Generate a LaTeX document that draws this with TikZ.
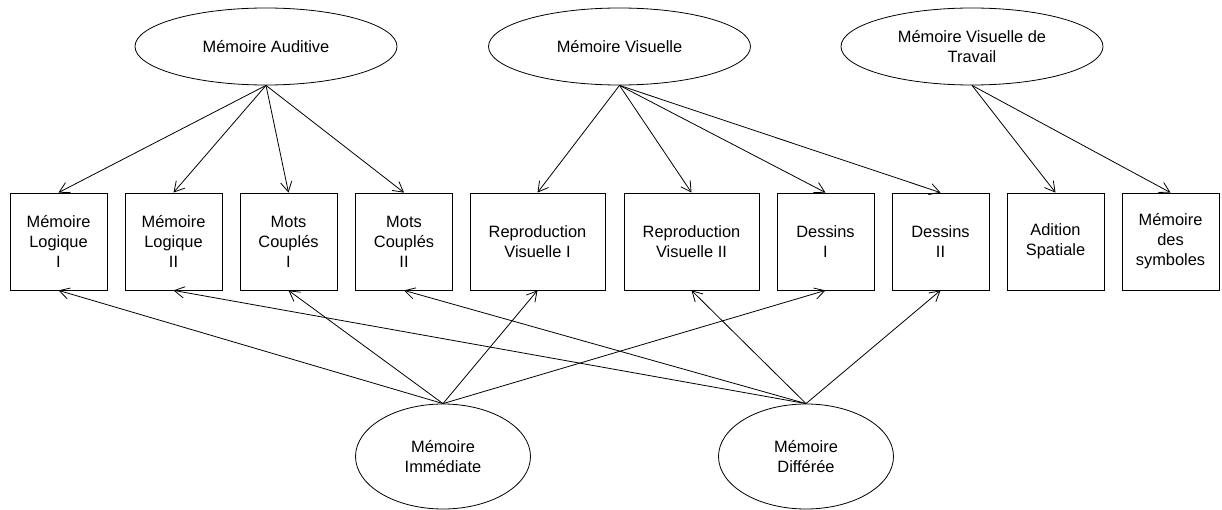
\documentclass[tikz,border=0pt]{standalone}
\usepackage{fontspec}
\setmainfont{Liberation Sans}
\usetikzlibrary{shapes.geometric,arrows.meta}
\begin{document}
\begin{tikzpicture}[x=0.75pt,y=-0.75pt,
  txt/.style={font=\fontsize{12.3}{15}\selectfont, align=center},
  lat/.style={txt, draw, ellipse, inner sep=0pt, line width=0.6pt},
  toplat/.style={lat, minimum width=262*0.75pt, minimum height=77*0.75pt},
  botlat/.style={lat, minimum width=175*0.75pt, minimum height=105*0.75pt},
  obs/.style={txt, draw, rectangle, inner sep=0pt, line width=0.6pt, minimum height=97*0.75pt},
  narrow/.style={obs, minimum width=97*0.75pt},
  wide/.style={obs, minimum width=135*0.75pt},
  arr/.style={-{Straight Barb[length=7.5pt,width=8.5pt]}, line width=0.6pt}
]
\useasboundingbox (0,0) rectangle (1222,510);

\node[toplat] (aud) at (266,46.5) {Mémoire Auditive};
\node[toplat] (vis) at (619.5,46.5) {Mémoire Visuelle};
\node[toplat] (trav) at (972,46.5) {Mémoire Visuelle de\\Travail};

\node[narrow] (b1) at (58.5,241.5) {Mémoire\\Logique\\I};
\node[narrow] (b2) at (173.5,241.5) {Mémoire\\Logique\\II};
\node[narrow] (b3) at (288.5,241.5) {Mots\\Couplés\\I};
\node[narrow] (b4) at (404,241.5) {Mots\\Couplés\\II};
\node[wide] (b5) at (537.5,241.5) {Reproduction\\Visuelle I};
\node[wide] (b6) at (691.5,241.5) {Reproduction\\Visuelle II};
\node[narrow] (b7) at (825.5,241.5) {Dessins\\I};
\node[narrow] (b8) at (940.5,241.5) {Dessins\\II};
\node[narrow] (b9) at (1055.5,241.5) {Adition\\Spatiale};
\node[narrow] (b10) at (1170.5,241.5) {Mémoire\\des\\symboles};

\node[botlat] (imm) at (443,456.5) {Mémoire\\Immédiate};
\node[botlat] (dif) at (806,456.5) {Mémoire\\Différée};

\foreach \b in {b1,b2,b3,b4} \draw[arr] (aud.south) -- (\b.north);
\foreach \b in {b5,b6,b7,b8} \draw[arr] (vis.south) -- (\b.north);
\foreach \b in {b9,b10} \draw[arr] (trav.south) -- (\b.north);
\foreach \b in {b1,b3,b5,b7} \draw[arr] (imm.north) -- (\b.south);
\foreach \b in {b2,b4,b6,b8} \draw[arr] (dif.north) -- (\b.south);
\end{tikzpicture}
\end{document}
